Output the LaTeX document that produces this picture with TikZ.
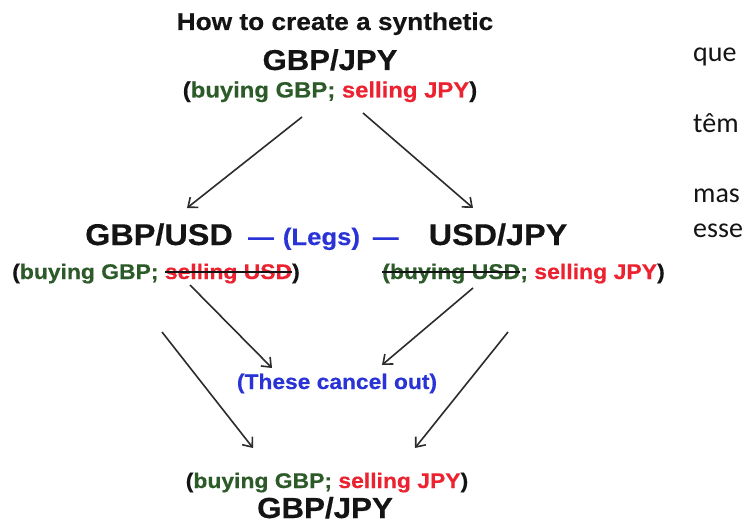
\documentclass[tikz,border=0pt]{standalone}
\usepackage{fontspec}
\setmainfont{Liberation Sans}[FakeStretch=1.08, BoldFeatures={FakeBold=0.4}]
\newfontfamily\ptfont{Carlito}
\usetikzlibrary{arrows.meta}
\definecolor{dgreen}{HTML}{2C5A28}
\definecolor{bred}{HTML}{EC2231}
\definecolor{bblue}{HTML}{2A34D6}
\definecolor{ink}{HTML}{141414}
\newlength\stkw
\newcommand\strikeover[2]{\settowidth\stkw{#2}\rlap{#2}\textcolor{#1}{\rule[0.3em]{\stkw}{1.5pt}}}
\newcommand\fs[1]{\fontsize{#1}{#1}\selectfont}
\tikzset{
  lbl/.style={inner sep=0pt, anchor=base, font=\bfseries, text=ink},
  pt/.style={inner sep=0pt, anchor=base west, font=\ptfont\fs{28}, text=ink},
  arr/.style={draw=ink!90, line width=1.6pt, -{Straight Barb[length=8pt,width=13pt,line width=1.6pt]}},
}
\begin{document}
\begin{tikzpicture}[x=1pt,y=-1pt]
\useasboundingbox[fill=white] (0,0) rectangle (747,524);
% top
\node[lbl] (title) at (335,30) {\fs{24.3}How to create a synthetic};
\node[lbl] (topgj) at (330,70) {\fs{28.8}GBP/JPY};
\node[lbl] (toppar) at (330,97.5) {\fs{22.1}(\textcolor{dgreen}{buying GBP;} \textcolor{bred}{selling JPY})};
% middle
\node[lbl] (gu) at (159,245) {\fs{30}GBP/USD};
\node[lbl, anchor=base west, text=bblue] (legs) at (248,245) {\fs{23.8}—\hspace{9pt}(Legs)\hspace{13pt}—};
\node[lbl] (uj) at (498,245) {\fs{30}USD/JPY};
\node[lbl] (lpar) at (156,279) {\fs{21.2}(\textcolor{dgreen}{buying GBP;} \textcolor{bred}{\strikeover{ink}{selling USD}})};
\node[lbl] (rpar) at (523.5,279) {\fs{21.3}\textcolor{dgreen}{\strikeover{ink}{(buying USD}}\textcolor{dgreen}{;} \textcolor{bred}{selling JPY})};
% cancel
\node[lbl, text=bblue] (cancel) at (337,389) {\fs{21.1}(These cancel out)};
% bottom
\node[lbl] (botpar) at (327,488) {\fs{21.2}(\textcolor{dgreen}{buying GBP;} \textcolor{bred}{selling JPY})};
\node[lbl] (botgj) at (325,518) {\fs{29}GBP/JPY};
% right-hand Portuguese fragments
\node[pt] (w1) at (693,62) {que};
\node[pt] (w2) at (693,133) {têm};
\node[pt] (w3) at (693,202) {mas};
\node[pt] (w4) at (693,237) {esse};
% arrow end points
\coordinate (a1s) at (302,117); \coordinate (a1e) at (187,208);
\coordinate (a2s) at (363,113); \coordinate (a2e) at (473,208);
\coordinate (b1s) at (190,285); \coordinate (b1e) at (272,368);
\coordinate (b2s) at (473,288); \coordinate (b2e) at (382,365);
\coordinate (c1s) at (162,332); \coordinate (c1e) at (253,448);
\coordinate (c2s) at (508,332); \coordinate (c2e) at (415,448);
\draw[arr] (a1s) -- (a1e);
\draw[arr] (a2s) -- (a2e);
\draw[arr] (b1s) -- (b1e);
\draw[arr] (b2s) -- (b2e);
\draw[arr] (c1s) -- (c1e);
\draw[arr] (c2s) -- (c2e);
\end{tikzpicture}
\end{document}
